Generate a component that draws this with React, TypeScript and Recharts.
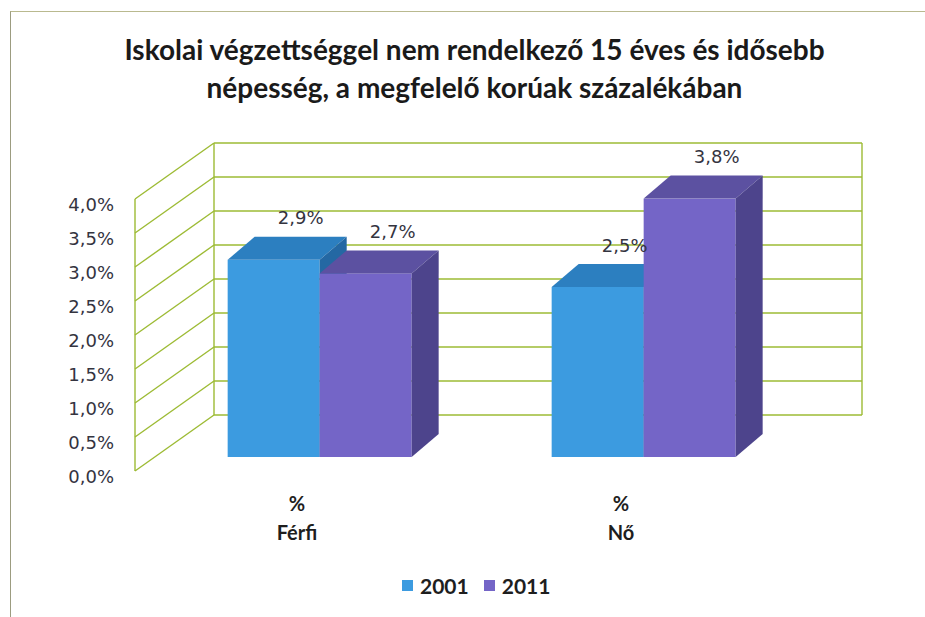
import React from "react";
import { Bar, BarChart, CartesianGrid, LabelList, Legend, XAxis, YAxis } from "recharts";

const categories = ["Férfi", "Nő"];
const unitLabel = "%";
const seriesNames = ["2001", "2011"];
const values2001 = [2.9, 2.5];
const values2011 = [2.7, 3.8];
const yTicks = [0, 0.5, 1, 1.5, 2, 2.5, 3, 3.5, 4];

const W = 925;
const H = 617;
const MARGIN = { top: 185, right: 119, bottom: 100, left: 98 };
const PLOT_TOP = MARGIN.top;
const PLOT_BOTTOM = H - MARGIN.bottom - 60;

// 3D offsets, relative to the plane the bars stand on
const BAR_DX = 27;
const BAR_DY = 23;
const BACK_DX = 56;
const BACK_DY = 42;
const FRONT_DX = -23;
const FRONT_DY = 14;

const COLORS = {
  "2001": { front: "#3c9be0", top: "#2c7fc0", side: "#2468a3" },
  "2011": { front: "#7465c7", top: "#5c51a1", side: "#4d448c" },
};
const GRID = "#9dbb34";
const TEXT = "#34343f";

const data = categories.map((category, i) => ({
  category,
  y2001: values2001[i],
  y2011: values2011[i],
}));

const pct = (v: number) => `${v.toFixed(1).replace(".", ",")}%`;

function Box({ x, y, width, height, colors }: any) {
  if (!height || height <= 0) return null;
  const r = x + width;
  const b = y + height;
  return (
    <g>
      <rect x={x} y={y} width={width} height={height} fill={colors.front} />
      <polygon points={`${x},${y} ${x + BAR_DX},${y - BAR_DY} ${r + BAR_DX},${y - BAR_DY} ${r},${y}`} fill={colors.top} />
      <polygon points={`${r},${y} ${r + BAR_DX},${y - BAR_DY} ${r + BAR_DX},${b - BAR_DY} ${r},${b}`} fill={colors.side} />
    </g>
  );
}

function GridLine(props: any) {
  const { x1, x2, y1, index } = props;
  return (
    <g key={`wall-${index}`} stroke={GRID} strokeWidth={1.4} fill="none">
      <line x1={x1 + BACK_DX} y1={y1 - BACK_DY} x2={x2 + BACK_DX} y2={y1 - BACK_DY} />
      <line x1={x1 + FRONT_DX} y1={y1 + FRONT_DY} x2={x1 + BACK_DX} y2={y1 - BACK_DY} />
      {index === 0 && (
        <>
          <line x1={x1 + BACK_DX} y1={PLOT_TOP - BACK_DY} x2={x1 + BACK_DX} y2={PLOT_BOTTOM - BACK_DY} />
          <line x1={x2 + BACK_DX} y1={PLOT_TOP - BACK_DY} x2={x2 + BACK_DX} y2={PLOT_BOTTOM - BACK_DY} />
          <line x1={x1 + FRONT_DX} y1={PLOT_TOP + FRONT_DY} x2={x1 + FRONT_DX} y2={PLOT_BOTTOM + FRONT_DY} />
        </>
      )}
    </g>
  );
}

function YTick({ y, payload }: any) {
  return (
    <text x={114} y={y + FRONT_DY + 5} textAnchor="end" dominantBaseline="central"
      fontFamily="DejaVu Sans" fontSize={18} fill={TEXT}>
      {pct(payload.value)}
    </text>
  );
}

function XTick({ x, y, payload }: any) {
  const cx = x + FRONT_DX;
  return (
    <g fontFamily="Lato" fontWeight={700} fontSize={20} fill="#1e1e1e" textAnchor="middle">
      <text x={cx} y={y + 46} dominantBaseline="central">{unitLabel}</text>
      <text x={cx} y={y + 75} dominantBaseline="central">{payload.value}</text>
    </g>
  );
}

function ValueLabel({ x, y, width, value }: any) {
  return (
    <text x={x + width / 2 + BAR_DX} y={y - BAR_DY - 19} textAnchor="middle" dominantBaseline="central"
      fontFamily="DejaVu Sans" fontSize={18} fill={TEXT}>
      {pct(value)}
    </text>
  );
}

function LegendBox() {
  return (
    <div style={{ display: "flex", alignItems: "center", fontFamily: "Lato", fontWeight: 700, fontSize: 21, color: "#1e1e1e" }}>
      {seriesNames.map((name) => (
        <div key={name} style={{ display: "flex", alignItems: "center", marginRight: 15 }}>
          <span style={{ width: 11, height: 11, background: (COLORS as any)[name].front, marginRight: 7 }} />
          <span>{name}</span>
        </div>
      ))}
    </div>
  );
}

export default function App() {
  return (
    <div style={{ position: "absolute", left: 0, top: 0, width: W, height: H, background: "#fff", overflow: "hidden" }}>
      <div style={{ position: "absolute", left: 10, top: 11, width: W - 10, height: H - 11, boxSizing: "border-box", borderTop: "1.5px solid #b9b98f", borderLeft: "1.5px solid #9c9c80" }} />
      <div style={{ position: "absolute", left: 12, top: 30, width: W, textAlign: "center", fontFamily: "Lato", fontWeight: 700, fontSize: 28, lineHeight: "38px", color: "#1a1a1a" }}>
        Iskolai végzettséggel nem rendelkező 15 éves és idősebb
        <br />
        népesség, a megfelelő korúak százalékában
      </div>
      <BarChart width={W} height={H} data={data} margin={MARGIN} barCategoryGap="21.5%" barGap={0}>
        <CartesianGrid horizontal={GridLine} vertical={false} />
        <XAxis dataKey="category" height={60} axisLine={false} tickLine={false} tickSize={0} tickMargin={0} tick={<XTick />} interval={0} />
        <YAxis domain={[0, 4]} ticks={yTicks} width={60} axisLine={false} tickLine={false} tick={<YTick />} interval={0} />
        <Legend verticalAlign="middle" align="center" layout="horizontal" content={<LegendBox />}
          wrapperStyle={{ position: "absolute", left: 402, top: 573, width: "auto" }} />
        <Bar dataKey="y2001" name={seriesNames[0]} isAnimationActive={false}
          shape={(p: any) => <Box {...p} colors={COLORS["2001"]} />}>
          <LabelList dataKey="y2001" content={<ValueLabel />} />
        </Bar>
        <Bar dataKey="y2011" name={seriesNames[1]} isAnimationActive={false}
          shape={(p: any) => <Box {...p} colors={COLORS["2011"]} />}>
          <LabelList dataKey="y2011" content={<ValueLabel />} />
        </Bar>
      </BarChart>
    </div>
  );
}
